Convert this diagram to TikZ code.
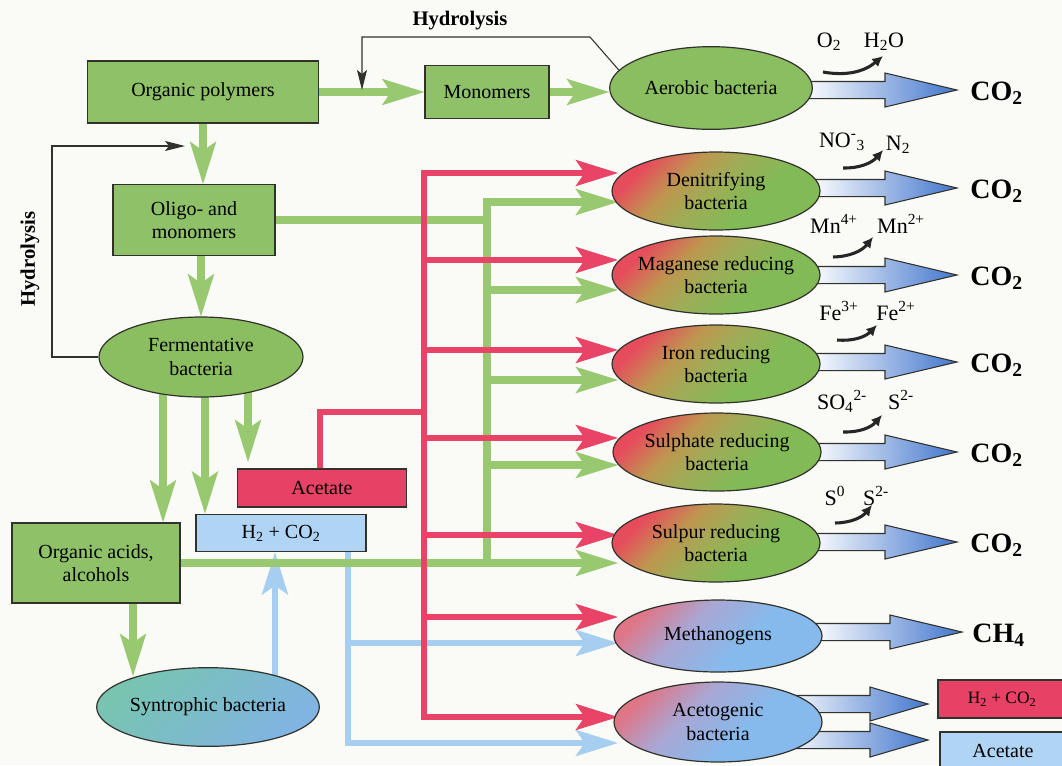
\documentclass[tikz,border=0pt]{standalone}
\usepackage{fontspec}
\setmainfont{Liberation Serif}
\usetikzlibrary{arrows.meta,calc,shapes.geometric}
\pgfdeclarelayer{back}
\pgfdeclarelayer{conn}
\pgfsetlayers{back,conn,main}
\definecolor{bgc}{RGB}{250,250,246}
\definecolor{gboxc}{RGB}{143,194,104}
\definecolor{garc}{RGB}{152,200,112}
\definecolor{redc}{RGB}{233,67,103}
\definecolor{bluec}{RGB}{166,206,240}
\definecolor{bboxc}{RGB}{176,212,243}
\definecolor{rboxc}{RGB}{231,66,101}
\definecolor{ellg}{RGB}{138,190,96}
\definecolor{ellr}{RGB}{230,76,92}
\definecolor{ellm}{RGB}{190,150,80}
\definecolor{ello}{RGB}{160,172,86}
\definecolor{ellgg}{RGB}{130,186,86}
\definecolor{ellp}{RGB}{222,118,134}
\definecolor{ellv}{RGB}{170,166,210}
\definecolor{ellb}{RGB}{134,186,236}
\definecolor{ellt}{RGB}{120,196,176}
\definecolor{ellbt}{RGB}{128,180,226}
\definecolor{fblue}{RGB}{66,118,205}
\definecolor{edgec}{RGB}{50,50,45}
\pgfdeclareverticalshading{redgreen}{100bp}{color(0bp)=(ellgg); color(38bp)=(ellgg); color(52bp)=(ello); color(62bp)=(ellm); color(74bp)=(ellr); color(100bp)=(ellr)}
\pgfdeclareverticalshading{pinkblue}{100bp}{color(0bp)=(ellb); color(42bp)=(ellb); color(60bp)=(ellv); color(75bp)=(ellp); color(100bp)=(ellp)}
\newcommand\mainfs{\fontsize{15}{17.5}\selectfont}
\newcommand\chemfs{\fontsize{16.5}{19}\selectfont}
\newcommand\bigfs{\fontsize{21}{24}\selectfont\bfseries}
\newcommand\fatarr[4]{%
  \shade[left color=white, right color=fblue, draw=edgec, line width=0.8pt]
  let \p1=(#1), \p2=(#2) in
  (\x1-#4,\y2+6.4pt) -- (\x2-#3,\y2+6.4pt) -- (\x2-#3,\y2+12.75pt) -- (\x2,\y2)
  -- (\x2-#3,\y2-12.75pt) -- (\x2-#3,\y2-6.4pt) -- (\x1-#4,\y2-6.4pt) -- cycle;}
\tikzset{
  bigtip/.tip={Stealth[length=32pt,width=20pt,inset=7pt,line width=0pt]},
  box/.style={draw=edgec, line width=1pt, fill=gboxc, align=center, font=\mainfs, inner sep=2pt},
  bbox/.style={box, fill=bboxc},
  rbox/.style={box, fill=rboxc},
  ell/.style={ellipse, draw=edgec, line width=0.9pt, align=center, font=\mainfs,
    inner xsep=-25pt, inner ysep=-8pt, minimum width=156pt, minimum height=58.5pt},
  ellgreen/.style={ell, fill=ellg},
  ellred/.style={ell, shading=redgreen, shading angle=45},
  ellblue/.style={ell, shading=pinkblue, shading angle=45},
  elltea/.style={ell, top color=ellt, bottom color=ellbt, shading angle=45},
  garrow/.style={draw=garc, line width=5.5pt, -bigtip},
  gline/.style={draw=garc, line width=5.5pt},
  rarrow/.style={draw=redc, line width=5.2pt, -bigtip},
  rline/.style={draw=redc, line width=5.2pt},
  barrow/.style={draw=bluec, line width=5.2pt, -bigtip},
  thinarrow/.style={draw=edgec, line width=0.8pt, -{Stealth[length=15pt,width=7.5pt,inset=3pt]}},
  swoosh/.style={draw=black!85, line width=2.3pt, -{Latex[length=8pt,width=8pt]}, bend right=25},
  chem/.style={font=\chemfs, inner sep=0pt, anchor=base},
  prod/.style={font=\bigfs, inner sep=0pt, anchor=base west},
  hyd/.style={font=\fontsize{15.5}{18}\selectfont\bfseries, inner sep=0pt},
}
\begin{document}
\begin{tikzpicture}[x=0.75pt,y=-0.75pt]
\begin{pgfonlayer}{back}
  \fill[bgc] (0,0) rectangle (1062,765);
\end{pgfonlayer}
\useasboundingbox (0,0) rectangle (1062,765);

% ---------- boxes ----------
\node[box, minimum width=173pt, minimum height=46.5pt] (op) at (203,92) {Organic polymers};
\node[box, minimum width=93pt, minimum height=40pt] (mon) at (487,92) {Monomers};
\node[box, minimum width=121.5pt, minimum height=53pt] (oli) at (194,220) {Oligo- and\\monomers};
\node[box, minimum width=126pt, minimum height=60pt] (oa) at (96,563) {Organic acids,\\alcohols};
\node[bbox, minimum width=127.5pt, minimum height=28pt] (h2) at (281,533) {H\textsubscript{2} + CO\textsubscript{2}};
\node[rbox, minimum width=127pt, minimum height=28.5pt] (acet) at (322,488) {Acetate};
\node[rbox, minimum width=96pt, minimum height=28.5pt, font=\fontsize{13}{15}\selectfont] (rh2) at (1002,699) {H\textsubscript{2} + CO\textsubscript{2}};
\node[bbox, minimum width=94.5pt, minimum height=28.5pt] (racet) at (1003,751) {Acetate};

% ---------- ellipses ----------
\node[ellgreen, minimum width=152pt, minimum height=62pt] (aer) at (711,88) {Aerobic bacteria};
\node[ellred] (deni) at (716,191) {Denitrifying\\bacteria};
\node[ellred] (mang) at (716,275) {Maganese reducing\\bacteria};
\node[ellred] (iron) at (716,364) {Iron reducing\\bacteria};
\node[ellred] (sulf) at (717,452) {Sulphate reducing\\bacteria};
\node[ellred] (sulp) at (716,543) {Sulpur reducing\\bacteria};
\node[ellblue, minimum height=54pt] (meth) at (718,636) {Methanogens};
\node[ellblue, minimum height=60pt] (acg) at (718,722) {Acetogenic\\bacteria};
\node[ellgreen, minimum width=153pt, minimum height=60pt] (ferm) at (201,357) {Fermentative\\bacteria};
\node[elltea, minimum width=167pt, minimum height=59pt] (syn) at (208,707) {Syntrophic bacteria};

% ---------- labels ----------
\node[hyd] (hydt) at (460,21) {Hydrolysis};
\node[hyd, rotate=90] (hydl) at (30,259) {Hydrolysis};

\node[chem] (o2) at (829,47) {O\textsubscript{2}};
\node[chem] (h2o) at (884,47) {H\textsubscript{2}O};
\node[chem] (no3) at (842,147) {NO\textsuperscript{-}\textsubscript{3}};
\node[chem] (n2) at (898,150) {N\textsubscript{2}};
\node[chem] (mn4) at (834,233) {Mn\textsuperscript{4+}};
\node[chem] (mn2) at (901,233) {Mn\textsuperscript{2+}};
\node[chem] (fe3) at (839,320) {Fe\textsuperscript{3+}};
\node[chem] (fe2) at (896,320) {Fe\textsuperscript{2+}};
\node[chem] (so4) at (842,409) {SO\textsubscript{4}\textsuperscript{2-}};
\node[chem] (s2a) at (901,409) {S\textsuperscript{2-}};
\node[chem] (s0) at (835,505) {S\textsuperscript{0}};
\node[chem] (s2b) at (876,505) {S\textsuperscript{2-}};

\node[prod] (p1) at (970,100) {CO\textsubscript{2}};
\node[prod] (p2) at (970,198) {CO\textsubscript{2}};
\node[prod] (p3) at (970,285) {CO\textsubscript{2}};
\node[prod] (p4) at (970,372) {CO\textsubscript{2}};
\node[prod] (p5) at (970,462) {CO\textsubscript{2}};
\node[prod] (p6) at (970,552) {CO\textsubscript{2}};
\node[prod] (p7) at (972,642) {CH\textsubscript{4}};

% ---------- coordinates ----------
\coordinate (hy1) at (590,37);
\coordinate (hy2) at (362,37);
\coordinate (hy3) at (362,90);
\coordinate (hl2) at (52,146);
\coordinate (hl3) at (185,146);
\coordinate (f1) at (163,380);
\coordinate (f2) at (205,385);
\coordinate (f3) at (248,380);
\coordinate (f3e) at (248,462);
\coordinate (s1) at (133,676);
\coordinate (gtop) at (487,202);
\coordinate (gbot) at (487,563);
\coordinate (tG1) at (618,202);
\coordinate (tG2) at (618,290);
\coordinate (tG3) at (618,380);
\coordinate (tG4) at (618,465);
\coordinate (rtop) at (424,173);
\coordinate (rbot) at (424,717);
\coordinate (tR1) at (618,173);
\coordinate (tR2) at (618,260);
\coordinate (tR3) at (618,350);
\coordinate (tR4) at (618,438);
\coordinate (tR5) at (618,535);
\coordinate (tR6) at (618,617);
\coordinate (tR7) at (618,717);
\coordinate (ra) at (320,412);
\coordinate (b1) at (275,690);
\coordinate (bj) at (348,743);
\coordinate (tB1) at (618,643);
\coordinate (tB2) at (618,743);
\coordinate (ta1) at (957,90);
\coordinate (ta2) at (957,188);
\coordinate (ta3) at (957,275);
\coordinate (ta4) at (957,362);
\coordinate (ta5) at (957,452);
\coordinate (ta6) at (957,542);
\coordinate (ta7) at (962,632);
\coordinate (ta8) at (928,704);
\coordinate (ta9) at (928,740);
\coordinate (sw1a) at (823,72);  \coordinate (sw1b) at (883,56);
\coordinate (sw2a) at (843,168); \coordinate (sw2b) at (883,150);
\coordinate (sw3a) at (833,257); \coordinate (sw3b) at (873,237);
\coordinate (sw4a) at (837,340); \coordinate (sw4b) at (877,325);
\coordinate (sw5a) at (843,432); \coordinate (sw5b) at (882,415);
\coordinate (sw6a) at (835,523); \coordinate (sw6b) at (872,505);

% ---------- connectors ----------
\begin{pgfonlayer}{conn}
  % blue
  \draw[barrow] (b1) -- (b1 |- h2.south);
  \draw[barrow] (bj |- h2.south) -- (bj) -- (tB2);
  \draw[barrow] (bj |- tB1) -- (tB1);
  % green
  \draw[garrow] (op.east) -- (mon.west);
  \draw[garrow] (mon.east) -- (mon.east -| aer.west);
  \draw[garrow] (op.south) -- (op.south |- oli.north);
  \draw[garrow] (ferm.north |- oli.south) -- (ferm.north);
  \draw[garrow] (f1) -- (f1 |- oa.north);
  \draw[garrow] (f2) -- (f2 |- h2.north);
  \draw[garrow] (f3) -- (f3e);
  \draw[garrow] (oa.south -| s1) -- (s1);
  \draw[gline] (oli.east) -- (oli.east -| gtop);
  \draw[garrow] (gbot) -- (gtop) -- (tG1);
  \draw[garrow] (gtop |- tG2) -- (tG2);
  \draw[garrow] (gtop |- tG3) -- (tG3);
  \draw[garrow] (gtop |- tG4) -- (tG4);
  \draw[garrow] (oa.east) -- (oa.east -| tG1);
  % red
  \draw[rline] (acet.north -| ra) -- (ra) -- (ra -| rtop);
  \draw[rline, bigtip-bigtip] (tR1) -- (rtop) -- (rbot) -- (tR7);
  \draw[rarrow] (rtop |- tR2) -- (tR2);
  \draw[rarrow] (rtop |- tR3) -- (tR3);
  \draw[rarrow] (rtop |- tR4) -- (tR4);
  \draw[rarrow] (rtop |- tR5) -- (tR5);
  \draw[rarrow] (rtop |- tR6) -- (tR6);
  % product arrows
  \fatarr{aer.east}{ta1}{54pt}{8pt}
  \fatarr{deni.east}{ta2}{54pt}{8pt}
  \fatarr{mang.east}{ta3}{54pt}{8pt}
  \fatarr{iron.east}{ta4}{54pt}{8pt}
  \fatarr{sulf.east}{ta5}{54pt}{8pt}
  \fatarr{sulp.east}{ta6}{54pt}{8pt}
  \fatarr{meth.east}{ta7}{54pt}{8pt}
  \fatarr{acg.east}{ta8}{43.5pt}{30pt}
  \fatarr{acg.east}{ta9}{43.5pt}{30pt}
\end{pgfonlayer}

% hydrolysis feedback lines
\draw[thinarrow] (aer.169) -- (hy1) -- (hy2) -- (hy3);
\draw[thinarrow] (ferm.west) -| (hl2) -- (hl3);

% electron acceptor arrows
\draw[swoosh] (sw1a) to (sw1b);
\draw[swoosh] (sw2a) to (sw2b);
\draw[swoosh] (sw3a) to (sw3b);
\draw[swoosh] (sw4a) to (sw4b);
\draw[swoosh] (sw5a) to (sw5b);
\draw[swoosh] (sw6a) to (sw6b);
\end{tikzpicture}
\end{document}
